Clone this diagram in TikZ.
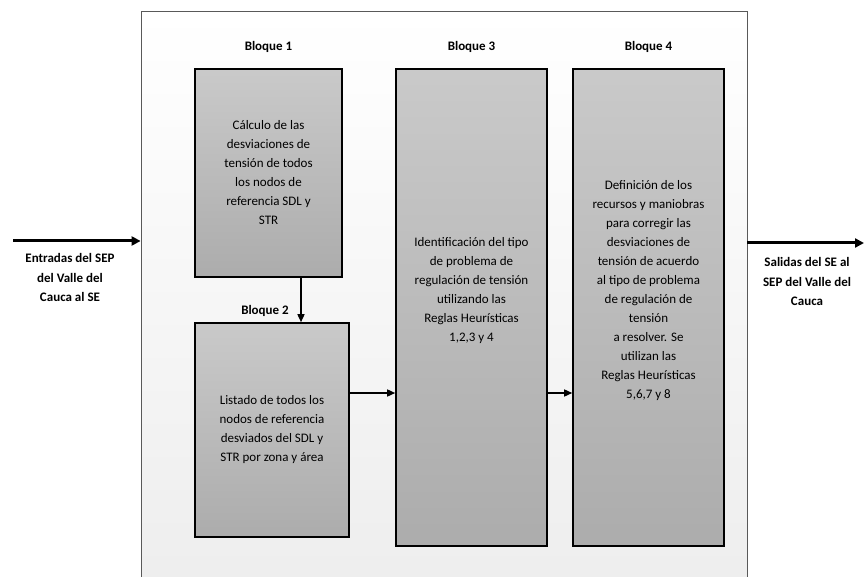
\documentclass[tikz,border=0pt]{standalone}
\usepackage{fontspec}
\setmainfont{Carlito}
\usepackage{tikz}
\usetikzlibrary{positioning,arrows.meta,calc}

\begin{document}
\begin{tikzpicture}[x=1pt, y=-1pt,
    >=Triangle,
    frame/.style={draw=gray!70!black, line width=0.8pt, top color=white, bottom color=gray!14},
    box/.style={draw, line width=1.6pt, top color=gray!42, bottom color=gray!65, font=\fontsize{13}{19}\selectfont, align=center},
    txt/.style={font=\fontsize{13}{19}\selectfont, align=center},
    blk/.style={font=\fontsize{13}{15}\selectfont\bfseries},
    side/.style={font=\fontsize{13}{19.5}\selectfont\bfseries, align=center},
    arr/.style={->, line width=1.5pt, >={Triangle[length=8pt, width=7pt]}},
    bigarr/.style={->, line width=3pt, >={Triangle[length=9pt, width=9pt]}},
]
\clip (0,0) rectangle (864,577);

% --- Expert system frame ---
\node[frame, minimum width=606pt, minimum height=589pt, inner sep=0pt] (se) at (444,305.5) {};

% --- Blocks ---
\node[box, minimum width=147pt, minimum height=208pt] (b1) at (268.5,173)
    {C\'alculo de las\\desviaciones de\\tensi\'on de todos\\los nodos de\\referencia SDL y\\STR};
\node[box, minimum width=154pt, minimum height=214pt] (b2) at (272,430)
    {Listado de todos los\\nodos de referencia\\desviados del SDL y\\STR por zona y \'area};
\node[box, minimum width=151pt, minimum height=477pt,
      label={[txt, yshift=16.5pt]center:{Identificaci\'on del tipo\\de problema de\\regulaci\'on de tensi\'on\\utilizando las\\Reglas Heur\'isticas\\1,2,3 y 4}}] (b3) at (471.5,307.5) {};
\node[box, minimum width=151pt, minimum height=477pt,
      label={[txt, yshift=16.5pt]center:{Definici\'on de los\\recursos y maniobras\\para corregir las\\desviaciones de\\tensi\'on de acuerdo\\al tipo de problema\\de regulaci\'on de\\tensi\'on\\a resolver. Se\\utilizan las\\Reglas Heur\'isticas\\5,6,7 y 8}}] (b4) at (648.5,307.5) {};

% Block titles
\node[blk, above=12pt of b1] (t1) {Bloque 1};
\node[blk, above=2pt of b2.north, xshift=-7pt] (t2) {Bloque 2};
\node[blk, above=12pt of b3] (t3) {Bloque 3};
\node[blk, above=12pt of b4] (t4) {Bloque 4};

% --- Arrows between blocks ---
\draw[arr] ([xshift=32.5pt]b1.south) -- ([xshift=32.5pt]b1.south |- b2.north);
\draw[arr] ([yshift=37pt]b2.east) -- ([yshift=37pt]b2.east -| b3.west);
\draw[arr] ([yshift=37pt]b2.east -| b3.east) -- ([yshift=37pt]b2.east -| b4.west);

% --- Inputs and outputs ---
\coordinate (in) at (13,241);
\coordinate (out) at (864,243);
\draw[bigarr] (in) -- (in -| se.west);
\draw[bigarr] (out -| se.east) -- (out);
\node[side, anchor=north] (entradas) at (70,250) {Entradas del SEP\\del Valle del\\Cauca al SE};
\node[side, anchor=north] (salidas) at (807,254) {Salidas del SE al\\SEP del Valle del\\Cauca};

\end{tikzpicture}
\end{document}
